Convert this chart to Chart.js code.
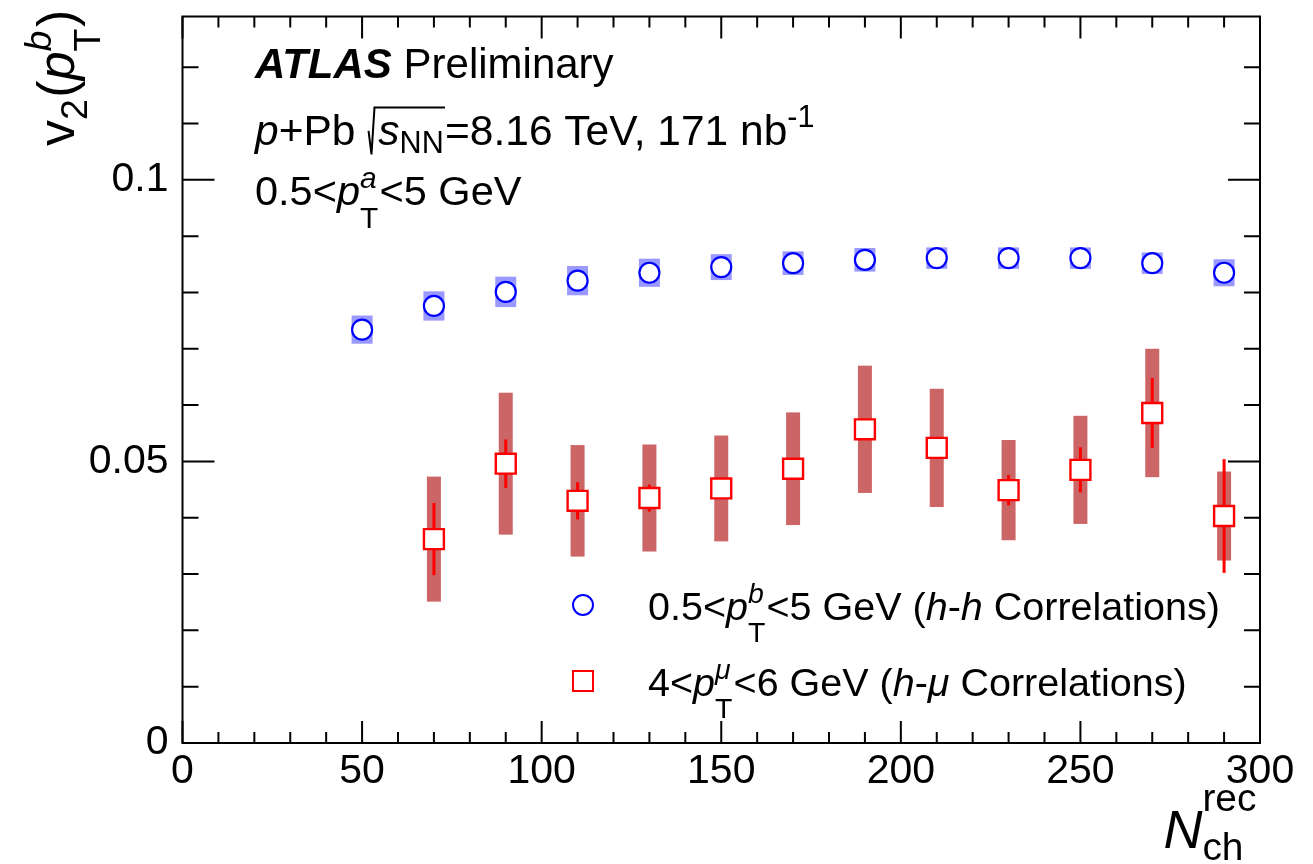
<!DOCTYPE html>
<html>
<head>
<meta charset="utf-8">
<script src="https://cdn.jsdelivr.net/npm/chart.js@4.4.1/dist/chart.umd.min.js"></script>
<style>
  html, body { margin: 0; padding: 0; background: #fff; }
  canvas { display: block; }
</style>
</head>
<body>
<canvas id="v2chart" width="1313" height="864"></canvas>
<script>
// h-h correlations, 0.5<pT^b<5 GeV
const nchBlue = [50, 70, 90, 110, 130, 150, 170, 190, 210, 230, 250, 270, 290];
const v2Blue = [0.0734, 0.0776, 0.0801, 0.0821, 0.0835, 0.0845, 0.0852, 0.0858, 0.0861, 0.0861, 0.0861, 0.0852, 0.0835];
const sysBlue = [0.0025, 0.0026, 0.0027, 0.0026, 0.0025, 0.0023, 0.0021, 0.0021, 0.0019, 0.0019, 0.0019, 0.0019, 0.0024];

// h-mu correlations, 4<pT^mu<6 GeV
const nchRed = [70, 90, 110, 130, 150, 170, 190, 210, 230, 250, 270, 290];
const v2Red = [0.0362, 0.0496, 0.0430, 0.0435, 0.0452, 0.0487, 0.0557, 0.0524, 0.0449, 0.0485, 0.0586, 0.0403];
const statRed = [0.0064, 0.0043, 0.0033, 0.0024, 0.0012, 0.0012, 0.0010, 0.0012, 0.0027, 0.0040, 0.0062, 0.0101];
const sysRed = [0.0111, 0.0126, 0.0099, 0.0095, 0.0094, 0.0100, 0.0113, 0.0105, 0.0089, 0.0096, 0.0114, 0.0079];

// axes
const xTickValues = [0, 50, 100, 150, 200, 250, 300];
const xMinorStep = 10;
const yTickValues = [0, 0.05, 0.1];
const yTickLabels = ['0', '0.05', '0.1'];
const yMinorStep = 0.01;

const FAMILY = '"Liberation Sans", Arial, Helvetica, sans-serif';
function fnt(style, size) {
  return (style ? style + ' ' : '') + size + 'px ' + FAMILY;
}

// tiny TLatex-like writer: plain runs, stacked sub/superscripts, radical
function drawRich(ctx, x, y, parts, size, dryRun) {
  let cx = x;
  const small = size * 0.72;
  parts.forEach(p => {
    if (p.t !== undefined) {
      ctx.font = fnt(p.f, size);
      if (!dryRun) ctx.fillText(p.t, cx, y);
      cx += ctx.measureText(p.t).width;
    } else if (p.rad) {
      const x0 = cx;
      const inner = drawRich(ctx, cx + size * 0.26, y, p.rad, size, dryRun);
      if (!dryRun) {
        ctx.beginPath();
        ctx.moveTo(x0 + size * 0.03, y - size * 0.33);
        ctx.lineTo(x0 + size * 0.1, y + size * 0.22);
        ctx.lineTo(x0 + size * 0.17, y - size * 0.88);
        ctx.lineTo(inner, y - size * 0.88);
        ctx.lineWidth = 2;
        ctx.stroke();
      }
      cx = inner;
    } else {
      let w = 0;
      if (p.sup) {
        ctx.font = fnt(p.supf, small);
        if (!dryRun) ctx.fillText(p.sup, cx, y - (p.up ?? 0.45) * size);
        w = Math.max(w, ctx.measureText(p.sup).width);
      }
      if (p.sub) {
        ctx.font = fnt(p.subf, small);
        if (!dryRun) ctx.fillText(p.sub, cx, y + (p.down ?? 0.5) * size);
        w = Math.max(w, ctx.measureText(p.sub).width);
      }
      cx += w + size * 0.03;
    }
  });
  return cx;
}

// error boxes and bars, placed with the chart scales
const errorPlugin = {
  id: 'errors',
  beforeDatasetsDraw(chart) {
    const { ctx, scales: { x, y } } = chart;
    ctx.save();
    ctx.fillStyle = 'rgba(0,0,255,0.4)';
    nchBlue.forEach((n, i) => {
      const px = x.getPixelForValue(n);
      const top = y.getPixelForValue(v2Blue[i] + sysBlue[i]);
      const bot = y.getPixelForValue(v2Blue[i] - sysBlue[i]);
      ctx.fillRect(px - 10.5, top, 21, bot - top);
    });
    ctx.fillStyle = '#cc6666';
    nchRed.forEach((n, i) => {
      const px = x.getPixelForValue(n);
      const top = y.getPixelForValue(v2Red[i] + sysRed[i]);
      const bot = y.getPixelForValue(v2Red[i] - sysRed[i]);
      ctx.fillRect(px - 7, top, 14, bot - top);
    });
    ctx.strokeStyle = '#ff0000';
    ctx.lineWidth = 3;
    nchRed.forEach((n, i) => {
      const px = x.getPixelForValue(n);
      ctx.beginPath();
      ctx.moveTo(px, y.getPixelForValue(v2Red[i] + statRed[i]));
      ctx.lineTo(px, y.getPixelForValue(v2Red[i] - statRed[i]));
      ctx.stroke();
    });
    ctx.restore();
  }
};

// ROOT style frame with inward ticks on all four sides, plus the texts
const framePlugin = {
  id: 'frame',
  afterDraw(chart) {
    const { ctx, chartArea: a, scales: { x, y } } = chart;
    ctx.save();
    ctx.strokeStyle = '#000';
    ctx.lineWidth = 2;
    ctx.strokeRect(a.left, a.top, a.right - a.left, a.bottom - a.top);

    ctx.beginPath();
    for (let v = x.min; v <= x.max + 1e-9; v += xMinorStep) {
      const px = x.getPixelForValue(v);
      const len = xTickValues.includes(v) ? 22 : 11;
      ctx.moveTo(px, a.bottom); ctx.lineTo(px, a.bottom - len);
      ctx.moveTo(px, a.top); ctx.lineTo(px, a.top + len);
    }
    for (let k = 0; k * yMinorStep <= y.max + 1e-9; k++) {
      const v = k * yMinorStep;
      const py = y.getPixelForValue(v);
      const major = yTickValues.some(t => Math.abs(t - v) < 1e-9);
      const len = major ? 32 : 16;
      ctx.moveTo(a.left, py); ctx.lineTo(a.left + len, py);
      ctx.moveTo(a.right, py); ctx.lineTo(a.right - len, py);
    }
    ctx.stroke();

    ctx.fillStyle = '#000';
    ctx.textBaseline = 'alphabetic';
    ctx.textAlign = 'left';

    drawRich(ctx, 255, 78, [{ t: 'ATLAS', f: 'bold italic' }, { t: ' Preliminary' }], 42);
    drawRich(ctx, 255, 145, [
      { t: 'p', f: 'italic' }, { t: '+Pb ' },
      { rad: [{ t: 's', f: 'italic' }, { sub: 'NN', down: 0.18 }] },
      { t: '=8.16 TeV, 171 nb' }, { sup: '-1', up: 0.42 }
    ], 42.5);
    drawRich(ctx, 255, 205, [
      { t: '0.5<' }, { t: 'p', f: 'italic' }, { sup: 'a', sub: 'T', supf: 'italic', up: 0.42, down: 0.55 },
      { t: '<5 GeV' }
    ], 41.5);

    // legend
    ctx.fillStyle = '#ffffff';
    ctx.strokeStyle = '#0000ff';
    ctx.lineWidth = 2;
    ctx.beginPath(); ctx.arc(583, 605, 10, 0, Math.PI * 2); ctx.fill(); ctx.stroke();
    ctx.strokeStyle = '#ff0000';
    ctx.strokeRect(573, 671, 20, 20);
    ctx.fillStyle = '#000';
    drawRich(ctx, 648, 620, [
      { t: '0.5<' }, { t: 'p', f: 'italic' }, { sup: 'b', sub: 'T', supf: 'italic', up: 0.42, down: 0.55 },
      { t: '<5 GeV (' }, { t: 'h', f: 'italic' }, { t: '-' }, { t: 'h', f: 'italic' }, { t: ' Correlations)' }
    ], 39.5);
    drawRich(ctx, 648, 696, [
      { t: '4<' }, { t: 'p', f: 'italic' }, { sup: '\u03bc', sub: 'T', supf: 'italic', up: 0.42, down: 0.55 },
      { t: '<6 GeV (' }, { t: 'h', f: 'italic' }, { t: '-' }, { t: '\u03bc', f: 'italic' }, { t: ' Correlations)' }
    ], 39.5);

    // y title, rotated
    ctx.save();
    ctx.translate(74, 146);
    ctx.rotate(-Math.PI / 2);
    drawRich(ctx, 0, 0, [
      { t: 'v' }, { sub: '2', down: 0.25 }, { t: '(' }, { t: 'p', f: 'italic' },
      { sup: 'b', sub: 'T', supf: 'italic', up: 0.45, down: 0.5 }, { t: ')' }
    ], 52);
    ctx.restore();

    // x title, right aligned
    const xt = [{ t: 'N', f: 'italic' }, { sup: 'rec', sub: 'ch', up: 0.68, down: 0.22 }];
    const w = drawRich(ctx, 0, 0, xt, 54, true);
    drawRich(ctx, 1258 - w, 848, xt, 54);
    ctx.restore();
  }
};

const ctx = document.getElementById('v2chart').getContext('2d');
new Chart(ctx, {
  type: 'scatter',
  data: {
    datasets: [
      {
        label: 'h-h',
        data: nchBlue.map((n, i) => ({ x: n, y: v2Blue[i] })),
        pointStyle: 'circle',
        pointRadius: 10,
        pointHoverRadius: 10,
        borderColor: '#0000ff',
        backgroundColor: '#ffffff',
        borderWidth: 2.2
      },
      {
        label: 'h-mu',
        data: nchRed.map((n, i) => ({ x: n, y: v2Red[i] })),
        pointStyle: 'rect',
        pointRadius: 14.1,
        pointHoverRadius: 14.1,
        borderColor: '#ff0000',
        backgroundColor: '#ffffff',
        borderWidth: 2.4
      }
    ]
  },
  options: {
    responsive: false,
    animation: false,
    devicePixelRatio: 1,
    events: [],
    layout: { padding: { top: 12, right: 53, left: 0, bottom: 0 } },
    plugins: { legend: { display: false }, tooltip: { enabled: false } },
    scales: {
      x: {
        type: 'linear', min: 0, max: 300,
        afterBuildTicks: s => { s.ticks = xTickValues.map(v => ({ value: v })); },
        afterFit: s => { s.height = 121; s.paddingLeft = 0; s.paddingRight = 0; s.paddingTop = 0; s.paddingBottom = 0; },
        grid: { display: false }, border: { display: false },
        ticks: { font: { family: FAMILY, size: 41 }, color: '#000', padding: -4, maxRotation: 0, autoSkip: false }
      },
      y: {
        type: 'linear', min: 0, max: 0.129,
        afterBuildTicks: s => { s.ticks = yTickValues.map(v => ({ value: v })); },
        afterFit: s => { s.width = 182.5; s.paddingLeft = 0; s.paddingRight = 0; s.paddingTop = 0; s.paddingBottom = 0; },
        grid: { display: false }, border: { display: false },
        ticks: { font: { family: FAMILY, size: 41 }, color: '#000', padding: 6, autoSkip: false,
          callback: (v, i) => yTickLabels[i] }
      }
    }
  },
  plugins: [errorPlugin, framePlugin]
});
</script>
</body>
</html>
